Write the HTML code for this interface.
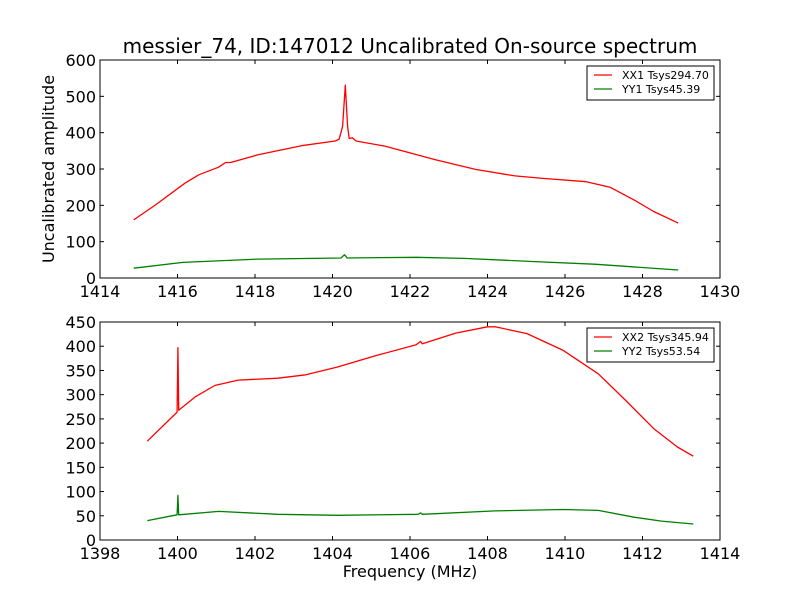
<!DOCTYPE html>
<html><head><meta charset="utf-8"><style>
body{margin:0;background:#fff}
svg{display:block;font-family:"DejaVu Sans","Liberation Sans",sans-serif}
</style></head><body>
<svg id="c" width="800" height="600" xmlns="http://www.w3.org/2000/svg">
<rect width="800" height="600" fill="#fff"/>
<text x="410" y="53" font-size="20" text-anchor="middle">messier_74, ID:147012 Uncalibrated On-source spectrum</text>
<text transform="translate(54,169) rotate(-90)" font-size="16" text-anchor="middle">Uncalibrated amplitude</text>
<text x="410" y="577" font-size="16" text-anchor="middle">Frequency (MHz)</text>
<g id="p1"></g>
<g id="p2"></g>
</svg>
<script>
const topFreqXX = [1414.87,1415.43,1416.19,1416.55,1417.06,1417.24,1417.37,1418.08,1419.20,1420.07,1420.17,1420.26,1420.33,1420.39,1420.43,1420.51,1420.61,1421.35,1422.67,1423.69,1424.71,1425.43,1426.55,1427.16,1427.78,1428.29,1428.92];
const topValXX = [160,201,261,284,305,318,318,339,364,377,382,417,531,417,384,386,377,363,325,299,281,274,265,250,215,183,151];
const topFreqYY = [1414.87,1416.14,1418.08,1420.22,1420.31,1420.38,1422.16,1423.39,1425.22,1426.76,1428.92];
const topValYY = [27,43,52,55,64,55,57,54,45,38,22];
const botFreqXX = [1399.22,1399.99,1400.01,1400.03,1400.45,1400.96,1401.57,1402.59,1403.31,1404.12,1405.14,1406.16,1406.27,1406.32,1407.18,1408.0,1408.2,1409.02,1409.94,1410.86,1411.57,1412.29,1412.90,1413.31];
const botValXX = [204,264,397,268,295,319,330,334,341,357,381,403,410,405,427,440,440,426,392,343,288,230,192,173];
const botFreqYY = [1399.22,1399.99,1400.01,1400.03,1401.06,1402.59,1404.12,1406.21,1406.27,1406.32,1408.2,1409.94,1410.86,1411.78,1412.49,1413.31];
const botValYY = [40,52,92,52,59,53,51,53,56,53,60,63,61,47,39,33];
const topXTicks = [1414,1416,1418,1420,1422,1424,1426,1428,1430];
const topYTicks = [0,100,200,300,400,500,600];
const botXTicks = [1398,1400,1402,1404,1406,1408,1410,1412,1414];
const botYTicks = [0,50,100,150,200,250,300,350,400,450];
const NS="http://www.w3.org/2000/svg";
function mk(tag,attrs,parent){const e=document.createElementNS(NS,tag);for(const k in attrs)e.setAttribute(k,attrs[k]);parent.appendChild(e);return e;}
function panel(g,top,xmin,xmax,ymax,xt,yt,series,legend){
  const L=100,R=720,T=top,B=top+218;
  const sx=v=>L+(v-xmin)/(xmax-xmin)*(R-L), sy=v=>B-v/ymax*(B-T);
  series.forEach(s=>{
    const p=mk('polyline',{points:s.f.map((f,i)=>sx(f).toFixed(1)+','+sy(s.v[i]).toFixed(1)).join(' '),fill:'none',stroke:s.c,'stroke-width':1.3,'stroke-linejoin':'round'},g);
    
    
  });
  const fr=mk('rect',{x:L,y:T,width:R-L,height:B-T,fill:'none',stroke:'#000','stroke-width':1},g);
  
  
  xt.forEach(t=>{const x=sx(t);
    mk('line',{x1:x,x2:x,y1:B,y2:B-4,stroke:'#000'},g);mk('line',{x1:x,x2:x,y1:T,y2:T+4,stroke:'#000'},g);
    const tx=mk('text',{x:x,y:B+19,'font-size':16,'text-anchor':'middle'},g);tx.textContent=t;
    
    });
  yt.forEach(t=>{const y=sy(t);
    mk('line',{x1:L,x2:L+4,y1:y,y2:y,stroke:'#000'},g);mk('line',{x1:R,x2:R-4,y1:y,y2:y,stroke:'#000'},g);
    const tx=mk('text',{x:L-4,y:y+6,'font-size':16,'text-anchor':'end'},g);tx.textContent=t;
    
    });
  const lg=mk('g',{},g);
  
  
  mk('rect',{x:587,y:T+6,width:127,height:34,fill:'#fff',stroke:'#000'},lg);
  legend.forEach((l,i)=>{const y=T+15+i*14;
    mk('line',{x1:594,x2:612,y1:y,y2:y,stroke:l.c,'stroke-width':1.3},lg);
    const tx=mk('text',{x:622,y:y+4,'font-size':11},lg);tx.textContent=l.t;
    
    });
}
panel(document.getElementById('p1'),60,1414,1430,600,topXTicks,topYTicks,
 [{f:topFreqXX,v:topValXX,c:'#ff0000',name:'xx1-line'},{f:topFreqYY,v:topValYY,c:'#008000',name:'yy1-line'}],
 [{c:'#ff0000',t:'XX1 Tsys294.70'},{c:'#008000',t:'YY1 Tsys45.39'}]);
panel(document.getElementById('p2'),322,1398,1414,450,botXTicks,botYTicks,
 [{f:botFreqXX,v:botValXX,c:'#ff0000',name:'xx2-line'},{f:botFreqYY,v:botValYY,c:'#008000',name:'yy2-line'}],
 [{c:'#ff0000',t:'XX2 Tsys345.94'},{c:'#008000',t:'YY2 Tsys53.54'}]);
</script>
</body></html>
